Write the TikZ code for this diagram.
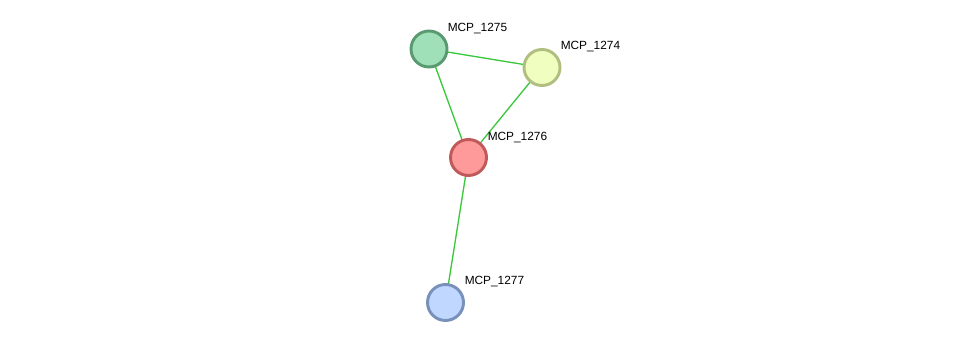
\documentclass[tikz,border=0pt]{standalone}
\usepackage{fontspec}
\setmainfont{Liberation Sans}
\usetikzlibrary{backgrounds}
\definecolor{edgec}{HTML}{3CC83C}
\definecolor{fA}{HTML}{A0E0B8}\definecolor{bA}{HTML}{5A9A70}
\definecolor{fB}{HTML}{F0FFC0}\definecolor{bB}{HTML}{B0BE80}
\definecolor{fC}{HTML}{FF9A9A}\definecolor{bC}{HTML}{C05A5A}
\definecolor{fD}{HTML}{C0D8FF}\definecolor{bD}{HTML}{7890BA}
\begin{document}
\begin{tikzpicture}[x=0.75pt,y=-0.75pt,
  prot/.style={circle,minimum size=36*0.75pt,inner sep=0pt,line width=2.2pt},
  lbl/.style={anchor=base west,inner sep=0pt,font=\fontsize{8.9}{10}\selectfont},
  edge/.style={draw=edgec,line width=1pt}]
\node[prot,fill=fA,draw=bA] (n1275) at (429,49) {};
\node[prot,fill=fB,draw=bB] (n1274) at (542,67.5) {};
\node[prot,fill=fC,draw=bC] (n1276) at (468.5,157.5) {};
\node[prot,fill=fD,draw=bD] (n1277) at (445.5,302.5) {};
\begin{scope}[on background layer]
\fill[white] (0,0) rectangle (975,348);
\draw[edge] (n1275.center) -- (n1274.center);
\draw[edge] (n1275.center) -- (n1276.center);
\draw[edge] (n1274.center) -- (n1276.center);
\draw[edge] (n1276.center) -- (n1277.center);
\end{scope}
\node[lbl] (l1275) at (447.5,32) {MCP\_1275};
\node[lbl] (l1274) at (560.5,50) {MCP\_1274};
\node[lbl] (l1276) at (487.5,140.5) {MCP\_1276};
\node[lbl] (l1277) at (464.5,285) {MCP\_1277};
\useasboundingbox (0,0) rectangle (975,348);
\end{tikzpicture}
\end{document}
